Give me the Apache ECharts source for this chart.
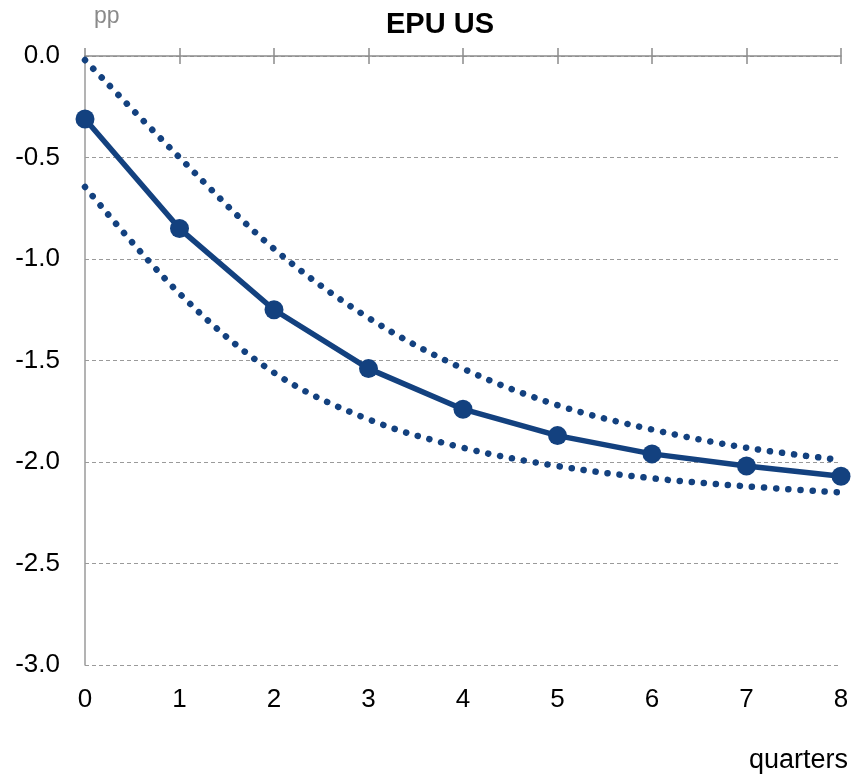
<!DOCTYPE html>
<html>
<head>
<meta charset="utf-8">
<script src="https://cdn.jsdelivr.net/npm/echarts@6/dist/echarts.min.js"></script>
<style>html,body{margin:0;padding:0;background:#fff;}#c{width:853px;height:778px;}</style>
</head>
<body>
<div id="c"></div>
<script>
const quarters = [0, 1, 2, 3, 4, 5, 6, 7, 8];
const central = [-0.31, -0.85, -1.25, -1.54, -1.74, -1.87, -1.96, -2.02, -2.07];
const upper = [-0.02, -0.50, -0.95, -1.29, -1.54, -1.72, -1.84, -1.93, -1.99];
const lower = [-0.645, -1.17, -1.56, -1.79, -1.93, -2.02, -2.08, -2.12, -2.15];
const yTicks = [0, -0.5, -1, -1.5, -2, -2.5, -3];

const COLOR = '#13417f';
const FONT = '"Liberation Sans", Arial, Helvetica, sans-serif';
const pair = arr => quarters.map((q, i) => [q, arr[i]]);

const chart = echarts.init(document.getElementById('c'), null, {renderer: 'canvas'});
const baseX = {type: 'value', min: 0, max: 8, interval: 1, splitLine: {show: false}};
chart.setOption({
  animation: false,
  backgroundColor: '#fff',
  title: {
    text: 'EPU US', left: 435, top: 5, textAlign: 'center',
    textStyle: {fontFamily: FONT, fontSize: 29, fontWeight: 'bold', color: '#000'}
  },
  graphic: [
    {type: 'text', left: 94, top: 5, style: {text: 'pp', fontFamily: FONT, fontSize: 23, fill: '#8a8a8a'}},
    {type: 'text', right: 5, top: 747, style: {text: 'quarters', fontFamily: FONT, fontSize: 27, fill: '#000'}}
  ],
  grid: {left: 85, right: 12, top: 56, bottom: 113, containLabel: false},
  xAxis: [
    Object.assign({}, baseX, {
      position: 'bottom',
      axisLine: {show: false, onZero: false},
      axisTick: {show: false},
      axisLabel: {show: true, fontFamily: FONT, fontSize: 26, color: '#000', margin: 22}
    }),
    Object.assign({}, baseX, {
      position: 'top',
      axisLine: {show: true, onZero: false, lineStyle: {color: '#8c8c8c', width: 1.5}},
      axisTick: {show: true, length: 8, inside: false, lineStyle: {color: '#8c8c8c', width: 1.5}},
      axisLabel: {show: false}
    }),
    Object.assign({}, baseX, {
      position: 'top',
      axisLine: {show: false, onZero: false},
      axisTick: {show: true, length: 8, inside: true, lineStyle: {color: '#8c8c8c', width: 1.5}},
      axisLabel: {show: false}
    })
  ],
  yAxis: {
    type: 'value', min: -3, max: 0, interval: 0.5,
    axisLine: {show: true, onZero: false, lineStyle: {color: '#9a9a9a', width: 1.5}},
    axisTick: {show: false},
    axisLabel: {
      fontFamily: FONT, fontSize: 26, color: '#000', margin: 25,
      formatter: v => (yTicks.includes(v) ? v.toFixed(1) : '')
    },
    splitLine: {show: true, lineStyle: {color: '#9a9a9a', type: [4, 3], width: 1}}
  },
  series: [
    {
      name: 'upper', type: 'line', xAxisIndex: 0, data: pair(upper), smooth: 0.35,
      showSymbol: false, symbol: 'none',
      lineStyle: {color: COLOR, width: 6.5, type: [0.1, 12], cap: 'round'}
    },
    {
      name: 'lower', type: 'line', xAxisIndex: 0, data: pair(lower), smooth: 0.35,
      showSymbol: false, symbol: 'none',
      lineStyle: {color: COLOR, width: 6.5, type: [0.1, 12], cap: 'round'}
    },
    {
      name: 'central', type: 'line', xAxisIndex: 0, data: pair(central),
      symbol: 'circle', symbolSize: 19, clip: false,
      itemStyle: {color: COLOR},
      lineStyle: {color: COLOR, width: 5.5}
    }
  ]
});
</script>
</body>
</html>
